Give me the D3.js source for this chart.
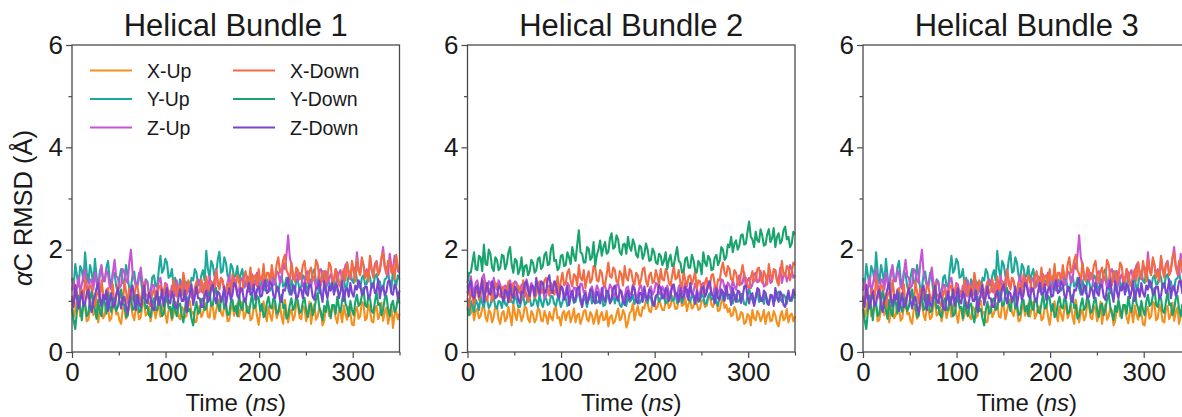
<!DOCTYPE html>
<html>
<head>
<meta charset="utf-8">
<script src="https://cdn.jsdelivr.net/npm/d3@7"></script>
<style>
  body { margin: 0; background: #fff; }
  svg text { font-family: "Liberation Sans", Arial, sans-serif; fill: #1a1a1a; }
</style>
</head>
<body>
<svg id="chart" width="1182" height="417"></svg>
<script>
// traces are sampled evenly over 0-350 ns
var tEnd = 350;

var seriesNames = ["X-Up", "Y-Up", "Z-Up", "X-Down", "Y-Down", "Z-Down"];
var seriesColors = ["#f5901f", "#1ca99a", "#c655d3", "#f26b43", "#18a46c", "#7b44cf"];
var panelTitles = ["Helical Bundle 1", "Helical Bundle 2", "Helical Bundle 3"];
var xTicks = [0, 100, 200, 300], xMinor = [50, 150, 250, 350];
var yTicks = [0, 2, 4, 6], yMinor = [1, 3, 5];

// bundle 1 traces (bundle 3 shows the same traces)
var b1XUp = [
  0.95,0.68,0.82,1.06,1.02,0.70,0.74,0.93,0.88,0.60,0.63,0.85,0.97,0.72,0.79,0.99,0.58,0.80,0.91,0.66,
  0.72,0.96,0.86,0.61,0.66,0.90,1.01,0.74,0.77,0.62,0.55,0.84,0.89,0.65,0.70,1.00,0.94,0.73,0.62,0.87,
  0.83,0.64,0.68,0.92,0.99,0.71,0.75,0.88,0.60,0.79,0.92,0.66,0.81,0.97,0.69,0.85,1.05,0.74,0.57,0.82,
  0.87,0.62,0.73,0.98,0.95,0.70,0.64,0.88,0.84,0.67,0.71,0.93,1.00,0.75,0.78,0.58,0.59,0.86,0.90,0.68,
  0.76,0.91,0.96,0.69,0.67,0.94,0.88,0.64,0.80,0.98,1.03,0.77,0.70,0.89,0.85,0.60,0.62,0.84,0.93,0.71,
  0.81,0.95,0.69,0.86,0.98,0.65,0.74,0.90,0.87,0.62,0.66,0.88,0.92,0.70,0.53,0.79,0.84,0.99,0.72,0.60,
  0.89,0.72,0.61,0.84,0.95,0.66,0.77,0.92,0.68,0.55,1.02,0.80,0.58,0.76,0.83,0.62,0.70,0.96,0.91,0.67,
  0.64,0.90,0.86,0.60,0.74,0.98,0.55,0.78,0.93,0.63,0.69,0.87,0.81,0.52,0.60,0.84,0.97,0.70,0.73,0.92,
  0.85,0.68,0.56,0.82,0.79,0.58,0.91,0.74,0.63,0.89,0.76,0.54,0.52,0.80,0.88,0.65,0.70,0.98,0.95,0.62,
  0.66,0.93,0.82,0.60,0.58,0.85,0.90,0.64,0.73,0.96,0.61,0.78,0.87,0.55,0.69,0.92,0.47,0.72,0.80,0.64,
  0.75];
var b1YUp = [
  1.45,1.25,1.72,1.50,1.28,1.68,1.60,1.38,1.95,1.55,1.35,1.70,1.55,1.30,1.82,1.48,1.22,1.58,1.66,1.38,
  1.40,1.65,1.78,1.42,1.30,1.58,1.52,1.28,1.18,1.45,1.62,1.35,1.36,1.70,1.48,1.22,1.25,1.52,1.57,1.30,
  1.33,1.55,1.44,1.18,1.20,1.42,1.38,1.12,1.15,1.46,1.50,1.30,1.27,1.60,1.88,1.55,1.62,1.82,1.75,1.45,
  1.48,1.62,1.30,1.45,1.22,1.10,1.42,1.28,1.12,1.38,1.35,1.18,1.25,1.45,1.40,1.62,1.55,1.30,1.32,1.50,
  1.60,1.40,1.98,1.62,1.45,1.78,1.70,1.48,1.52,1.80,1.96,1.55,1.58,1.85,1.75,1.50,1.42,1.72,1.65,1.45,
  1.50,1.68,1.36,1.52,1.62,1.38,1.28,1.46,1.45,1.25,1.22,1.40,1.38,1.55,1.30,1.18,1.48,1.35,1.20,1.42,
  1.35,1.20,1.26,1.48,1.42,1.25,1.18,1.36,1.50,1.28,1.32,1.45,1.24,1.12,1.40,1.30,1.15,1.42,1.38,1.22,
  1.28,1.50,1.45,1.30,1.20,1.42,1.36,1.55,1.62,1.38,1.25,1.15,1.40,1.58,1.32,1.20,1.48,1.35,1.22,1.45,
  1.38,1.20,1.55,1.36,1.27,1.48,1.44,1.22,1.30,1.52,1.58,1.40,1.35,1.62,1.42,1.28,1.25,1.45,1.50,1.32,
  1.33,1.55,1.46,1.25,1.28,1.48,1.52,1.36,1.38,1.20,1.24,1.42,1.44,1.58,1.35,1.22,1.60,1.40,1.30,1.50,
  1.42];
var b1ZUp = [
  1.20,1.38,1.05,1.25,1.48,1.18,1.32,1.50,1.62,1.30,1.15,1.42,1.40,1.22,1.55,1.35,1.25,1.52,1.70,1.40,
  1.38,1.60,1.52,1.28,1.22,1.55,1.80,1.48,1.45,1.25,1.30,1.62,1.58,1.40,1.35,1.75,2.00,1.55,1.42,1.30,
  1.28,1.48,1.65,1.35,1.18,1.40,1.36,1.15,1.10,1.32,1.30,1.08,1.22,1.38,1.45,1.20,1.15,1.35,1.32,1.12,
  1.08,1.30,1.26,1.10,1.40,1.22,1.18,1.38,1.35,1.15,1.12,1.30,1.28,1.06,1.05,1.25,1.22,1.42,1.38,1.18,
  1.16,1.35,1.30,1.12,1.48,1.28,1.20,1.42,1.62,1.30,1.25,1.45,1.38,1.20,1.14,1.36,1.50,1.26,1.28,1.45,
  1.35,1.15,1.22,1.40,1.45,1.25,1.30,1.48,1.18,1.35,1.52,1.30,1.32,1.55,1.40,1.22,1.25,1.42,1.46,1.28,
  1.30,1.52,1.48,1.30,1.36,1.58,1.55,1.35,1.40,1.75,1.62,1.90,2.28,1.85,1.70,1.42,1.45,1.60,1.38,1.55,
  1.50,1.28,1.32,1.55,1.58,1.36,1.28,1.48,1.45,1.25,1.35,1.60,1.62,1.38,1.40,1.58,1.30,1.45,1.52,1.35,
  1.44,1.62,1.36,1.55,1.60,1.40,1.48,1.70,1.75,1.50,1.42,1.65,1.66,1.45,1.95,1.62,1.55,1.80,1.70,1.48,
  1.62,1.45,1.85,1.60,1.50,1.72,1.78,1.52,1.58,1.82,2.05,1.68,1.65,1.48,1.92,1.70,1.60,1.88,1.80,1.58,
  1.55];
var b1XDown = [
  1.10,0.95,1.32,1.15,0.92,1.18,1.22,1.00,1.45,1.20,1.05,1.30,1.28,1.05,0.88,1.12,1.18,0.98,1.40,1.15,
  1.02,1.22,1.25,1.00,1.12,1.32,0.85,1.08,1.30,1.05,1.15,0.92,1.38,1.18,0.95,1.25,1.20,1.02,1.08,1.30,
  1.26,1.08,1.00,1.20,1.35,1.10,1.12,0.95,0.90,1.15,1.22,1.02,1.05,1.28,1.30,1.08,1.14,1.32,0.98,1.18,
  1.20,1.05,1.42,1.22,1.08,1.30,1.28,1.10,1.55,1.35,1.15,1.40,1.32,1.12,1.02,1.25,1.38,1.15,1.18,1.42,
  1.25,1.05,1.48,1.28,1.12,1.38,1.35,1.15,1.60,1.40,1.22,1.45,1.40,1.18,1.15,1.35,1.30,1.10,1.52,1.32,
  1.28,1.50,1.42,1.20,1.18,1.45,1.58,1.32,1.35,1.65,1.25,1.48,1.50,1.28,1.62,1.40,1.40,1.72,1.30,1.55,
  1.55,1.35,1.70,1.48,1.45,1.72,1.85,1.55,1.62,1.80,1.90,1.60,1.52,1.38,1.75,1.52,1.38,1.65,1.60,1.42,
  1.48,1.70,1.78,1.50,1.35,1.58,1.65,1.40,1.42,1.80,1.72,1.45,1.30,1.55,1.58,1.35,1.45,1.75,1.68,1.40,
  1.36,1.62,1.55,1.32,1.28,1.52,1.62,1.40,1.75,1.55,1.45,1.78,1.60,1.38,1.82,1.58,1.50,1.85,1.70,1.45,
  1.58,1.38,1.88,1.62,1.45,1.70,1.75,1.50,1.62,1.85,1.95,1.65,1.52,1.78,1.80,1.55,1.68,1.42,1.90,1.65,
  1.60];
var b1YDown = [
  0.85,0.62,0.45,0.80,1.10,0.88,0.62,0.98,0.95,0.70,0.75,1.05,1.18,0.90,0.82,0.65,1.02,0.78,0.70,1.00,
  0.98,0.75,1.15,0.90,0.78,1.02,1.05,0.80,0.88,1.10,1.22,0.95,0.92,0.68,0.72,0.98,1.08,0.82,0.85,1.12,
  1.00,0.78,0.80,1.05,1.12,0.85,0.90,0.72,0.68,0.95,1.05,0.82,0.82,1.08,0.95,0.70,0.75,0.98,1.10,0.86,
  0.88,0.66,1.02,0.82,0.70,0.92,0.95,0.72,0.58,0.85,1.08,0.80,0.84,0.65,0.52,0.82,0.98,0.75,0.78,1.02,
  1.05,0.82,0.86,1.08,1.18,0.90,0.92,1.15,1.25,0.95,0.80,1.02,1.10,0.85,0.95,0.72,0.74,0.98,1.02,0.80,
  0.90,0.70,1.12,0.88,0.82,1.05,1.00,0.78,0.76,0.95,1.15,0.85,0.88,1.10,1.05,0.80,0.94,0.68,0.72,0.96,
  1.08,0.88,0.85,1.05,1.00,0.75,0.78,0.98,1.12,0.86,0.92,0.65,0.70,0.92,1.05,0.82,0.88,1.10,0.98,0.76,
  0.80,0.98,1.06,0.82,0.68,0.90,0.95,0.72,0.84,1.02,1.15,0.88,0.75,0.62,0.90,0.78,1.02,0.85,0.66,0.92,
  0.92,0.75,1.08,0.88,0.78,1.02,1.20,0.95,0.86,0.70,1.00,0.82,0.72,0.98,1.12,0.90,0.94,1.10,1.25,0.92,
  0.88,1.08,1.05,0.80,0.76,0.98,1.18,0.92,0.95,0.72,0.82,1.05,1.10,0.85,0.70,0.92,1.00,0.78,0.86,1.05,
  0.95];
var b1ZDown = [
  1.05,0.88,1.30,1.08,0.85,1.02,1.18,0.90,0.95,1.15,1.22,0.92,0.78,1.00,1.10,1.25,1.35,1.05,0.90,1.12,
  1.02,1.20,0.80,0.98,1.15,0.88,0.92,1.12,1.25,1.00,0.85,1.05,1.08,0.90,0.75,0.98,1.20,1.30,0.98,0.82,
  1.12,0.95,0.88,1.08,1.30,1.02,0.95,1.15,1.05,0.85,0.82,1.02,1.18,0.92,1.00,1.22,0.90,1.10,1.25,1.00,
  0.95,1.18,1.10,0.90,0.85,1.05,1.22,1.00,1.00,1.20,0.78,0.98,1.15,1.32,0.92,1.08,1.28,1.05,1.05,0.88,
  0.88,1.10,1.20,0.98,1.02,1.25,1.32,1.08,0.95,1.18,1.15,0.98,1.08,1.28,0.90,1.12,1.25,1.02,1.12,1.35,
  1.30,1.10,1.05,1.25,1.22,1.02,0.98,1.20,1.35,1.12,1.15,1.32,1.02,1.22,1.28,1.08,1.10,1.30,1.40,1.15,
  1.18,1.38,1.32,1.10,1.05,1.28,1.25,1.02,0.98,1.22,1.20,1.35,1.45,1.18,1.12,1.30,1.28,1.05,1.08,1.25,
  1.22,1.05,1.35,1.15,1.10,1.32,1.30,1.08,1.02,1.25,1.25,1.40,1.15,0.98,1.38,1.18,1.05,1.28,1.20,1.35,
  1.12,1.32,1.30,1.05,1.18,1.38,1.00,1.20,1.25,1.08,1.35,1.15,1.08,1.30,1.22,1.40,1.32,1.12,1.15,1.28,
  1.28,1.05,1.10,1.32,1.35,1.15,1.20,1.42,1.05,1.25,1.30,1.10,1.18,1.38,1.40,1.15,1.12,1.32,1.25,1.05,
  1.20];

// bundle 2 traces
var b2XUp = [
  0.90,0.72,0.75,0.95,0.62,0.80,0.85,0.66,0.70,0.86,0.92,0.68,0.60,0.82,0.78,0.58,0.68,0.90,0.88,0.64,
  0.55,0.76,0.80,0.60,0.66,0.88,0.72,0.52,0.95,0.74,0.62,0.84,0.78,0.60,0.70,0.90,0.85,0.65,0.58,0.80,
  0.74,0.58,0.65,0.86,0.82,0.62,0.60,0.80,0.70,0.55,0.78,0.68,0.62,0.84,0.88,0.66,0.68,0.52,0.75,0.80,
  0.62,0.76,0.80,0.58,0.70,0.85,0.58,0.72,0.75,0.55,0.66,0.80,0.82,0.64,0.60,0.78,0.72,0.55,0.68,0.82,
  0.55,0.70,0.78,0.62,0.64,0.80,0.50,0.68,0.72,0.56,0.60,0.74,0.85,0.62,0.66,0.82,0.74,0.48,0.58,0.76,
  0.80,0.95,0.62,0.78,0.90,0.72,0.70,0.88,0.85,1.02,0.95,0.80,0.78,0.96,1.00,0.84,0.88,1.05,0.92,0.82,
  0.82,0.98,1.05,0.86,0.90,1.10,0.98,0.84,0.85,1.02,1.08,0.90,0.92,1.06,0.80,0.95,1.00,0.85,0.88,1.04,
  0.95,0.82,0.85,1.00,1.02,0.88,0.90,1.06,1.10,0.92,0.88,1.02,0.98,0.80,0.82,0.98,1.05,0.86,0.92,0.78,
  0.85,0.70,0.72,0.88,0.80,0.62,0.65,0.78,0.75,0.55,0.58,0.74,0.70,0.52,0.82,0.66,0.62,0.80,0.74,0.60,
  0.68,0.82,0.55,0.72,0.78,0.60,0.62,0.80,0.72,0.56,0.50,0.70,0.80,0.62,0.66,0.84,0.58,0.72,0.75,0.60,
  0.70];
var b2YUp = [
  0.85,0.72,1.00,0.90,0.78,1.02,0.95,0.82,1.10,0.95,0.88,1.05,1.02,0.86,0.92,1.08,1.05,0.90,0.85,1.00,
  0.98,0.86,1.08,0.94,0.90,1.05,1.15,0.98,0.95,1.10,1.02,0.88,0.88,1.02,1.10,0.92,0.96,1.12,1.05,0.90,
  0.92,1.06,1.00,0.88,1.12,0.98,0.88,1.04,1.05,0.92,0.95,1.10,1.08,0.94,0.90,1.05,1.02,0.88,0.98,1.12,
  1.05,0.90,0.92,1.08,1.10,0.96,0.98,1.12,1.15,0.98,0.90,1.06,1.02,0.88,1.08,1.18,0.95,1.05,1.12,0.96,
  0.98,1.10,1.06,0.90,0.92,1.05,1.12,0.96,1.00,1.14,0.95,1.08,1.08,0.92,0.88,1.02,1.04,0.90,1.10,0.98,
  1.02,1.12,0.94,1.05,1.10,0.95,1.00,1.16,1.15,1.00,0.96,1.10,1.06,0.92,0.92,1.08,1.12,0.98,1.04,1.14,
  1.08,0.95,0.98,1.12,1.15,1.00,1.02,1.16,0.95,1.06,1.10,0.96,1.05,1.20,1.18,1.02,0.98,1.12,1.06,0.94,
  1.12,0.98,1.00,1.14,1.08,0.94,0.95,1.10,1.15,1.02,1.05,1.18,0.98,0.90,1.10,1.22,1.02,1.08,1.20,1.04,
  1.05,1.15,0.95,1.06,1.12,0.98,1.00,1.14,1.08,0.94,0.92,1.10,1.25,1.08,1.02,0.92,1.10,1.20,0.98,1.06,
  1.06,0.94,1.15,1.02,0.95,1.08,1.10,0.96,1.02,1.14,1.18,1.04,0.98,1.12,1.08,0.94,1.12,1.02,1.00,1.10,
  1.05];
var b2ZUp = [
  1.30,1.12,1.48,1.28,1.15,1.35,1.40,1.22,1.25,1.45,1.52,1.30,1.18,1.38,1.35,1.15,1.45,1.28,1.22,1.40,
  1.32,1.18,1.12,1.30,1.28,1.10,1.40,1.25,1.20,1.38,1.35,1.18,1.15,1.32,1.25,1.08,1.42,1.30,1.18,1.35,
  1.28,1.10,1.15,1.32,1.35,1.18,1.22,1.05,1.10,1.28,1.30,1.15,1.20,1.36,1.38,1.20,1.12,1.30,1.25,1.08,
  1.18,1.35,1.30,1.12,1.08,1.26,1.25,1.10,1.15,1.34,1.32,1.16,1.20,1.02,1.05,1.22,1.28,1.12,1.15,1.30,
  1.22,1.05,1.10,1.28,1.30,1.14,1.18,1.32,1.25,1.08,1.12,1.30,1.35,1.18,1.20,1.04,1.08,1.25,1.28,1.12,
  1.15,1.32,1.25,1.08,1.10,1.26,1.30,1.14,1.20,1.02,1.05,1.22,1.28,1.12,1.18,1.35,1.32,1.15,1.12,1.28,
  1.20,1.05,1.30,1.16,1.15,1.32,1.25,1.08,1.10,1.28,1.32,1.14,1.22,1.36,1.08,1.20,1.28,1.12,1.18,1.34,
  1.25,1.10,1.15,1.32,1.35,1.18,1.20,1.38,1.30,1.14,1.12,1.30,1.28,1.15,1.22,1.42,1.40,1.25,1.18,1.36,
  1.30,1.18,1.42,1.28,1.22,1.40,1.50,1.32,1.35,1.55,1.28,1.40,1.45,1.25,1.32,1.52,1.55,1.36,1.38,1.58,
  1.45,1.28,1.30,1.48,1.52,1.35,1.38,1.58,1.60,1.40,1.42,1.65,1.35,1.50,1.55,1.38,1.48,1.70,1.62,1.45,
  1.50];
var b2XDown = [
  1.05,0.88,1.22,1.08,0.92,1.15,1.30,1.02,1.12,1.28,1.38,1.10,1.00,1.18,1.25,0.98,1.15,1.35,1.32,1.12,
  1.08,1.25,1.28,1.05,1.18,1.38,0.98,1.15,1.35,1.12,1.10,1.30,1.22,1.02,1.40,1.20,1.15,0.98,1.05,1.28,
  1.25,1.05,1.12,1.32,1.38,1.15,1.20,1.40,1.45,1.22,1.10,1.35,1.30,1.12,1.22,1.48,1.15,1.38,1.55,1.30,
  1.35,1.55,1.62,1.38,1.28,1.52,1.48,1.30,1.70,1.45,1.40,1.60,1.25,1.45,1.58,1.35,1.42,1.68,1.65,1.40,
  1.38,1.60,1.55,1.32,1.30,1.52,1.75,1.48,1.45,1.65,1.60,1.38,1.35,1.58,1.52,1.30,1.68,1.45,1.40,1.62,
  1.58,1.38,1.32,1.55,1.50,1.30,1.42,1.62,1.65,1.40,1.28,1.50,1.55,1.35,1.38,1.60,1.48,1.30,1.62,1.42,
  1.40,1.62,1.55,1.35,1.30,1.50,1.68,1.42,1.45,1.60,1.35,1.25,1.58,1.40,1.28,1.48,1.50,1.32,1.42,1.58,
  1.22,1.40,1.38,1.18,1.15,1.35,1.45,1.25,1.30,1.50,1.52,1.32,1.20,1.42,1.40,1.62,1.75,1.55,1.48,1.68,
  1.62,1.42,1.38,1.60,1.55,1.35,1.30,1.52,1.70,1.48,1.45,1.28,1.25,1.45,1.58,1.38,1.40,1.62,1.65,1.42,
  1.35,1.58,1.50,1.32,1.72,1.52,1.42,1.62,1.60,1.38,1.30,1.55,1.78,1.50,1.48,1.68,1.65,1.40,1.55,1.75,
  1.70];
var b2YDown = [
  1.35,1.55,1.55,1.75,1.95,1.62,1.60,1.88,1.85,1.58,2.10,1.72,1.70,2.00,1.92,1.65,1.58,1.85,1.80,1.60,
  1.65,1.90,1.88,1.62,1.72,1.95,2.05,1.70,1.55,1.82,1.78,1.52,1.62,1.85,1.48,1.68,1.70,1.50,1.58,1.80,
  1.75,1.55,1.60,1.82,1.85,1.62,1.68,1.90,1.95,1.70,1.72,2.02,2.10,1.78,1.80,1.60,1.65,1.88,1.90,1.68,
  1.70,1.95,1.85,1.72,2.05,1.88,1.78,2.10,2.38,1.95,1.92,1.75,1.75,2.05,2.02,1.80,1.85,2.15,1.68,1.90,
  2.00,2.18,1.88,2.05,2.15,1.92,1.95,2.22,2.32,2.02,2.05,2.28,2.20,1.95,1.90,2.10,2.12,1.92,2.25,2.05,
  1.98,2.20,2.10,1.90,1.85,2.08,2.05,1.82,1.92,2.12,2.00,1.78,1.80,2.02,1.95,1.75,1.72,1.92,1.88,1.70,
  1.78,1.95,1.62,1.80,1.90,1.68,1.70,1.88,2.05,1.78,1.75,1.55,1.58,1.82,1.85,1.65,1.65,1.90,1.80,1.60,
  1.55,1.78,1.72,1.52,1.95,1.75,1.68,1.88,1.82,1.60,1.62,1.85,1.90,1.70,1.78,2.05,2.00,1.80,1.85,2.10,
  2.05,2.25,1.95,2.12,2.18,2.00,2.08,2.28,2.30,2.10,2.12,2.35,2.55,2.25,2.20,2.05,2.35,2.18,2.15,2.40,
  2.28,2.08,2.10,2.30,2.40,2.15,2.22,2.42,2.05,2.25,2.32,2.12,2.18,2.38,2.45,2.20,2.25,2.05,2.12,2.35,
  2.30];
var b2ZDown = [
  1.15,1.32,1.40,1.10,1.05,1.25,1.30,1.08,1.22,1.42,0.98,1.18,1.35,1.15,1.12,1.38,1.28,1.05,1.08,1.30,
  1.25,1.08,1.00,1.22,1.18,0.98,1.32,1.12,1.05,1.28,1.22,1.02,0.95,1.18,1.15,1.35,1.38,1.20,1.10,1.30,
  1.28,1.10,1.45,1.25,1.12,1.38,1.35,1.15,1.20,1.42,1.50,1.22,1.15,1.38,1.32,1.10,1.05,1.28,1.25,1.02,
  1.10,1.28,0.92,1.12,1.20,0.98,1.05,1.25,1.28,1.05,0.88,1.10,1.15,0.95,1.02,1.22,1.22,1.00,0.95,1.18,
  1.12,0.95,1.25,1.05,0.98,1.20,1.18,0.95,1.05,1.25,1.30,1.08,1.00,1.22,1.15,0.98,0.92,1.12,1.20,1.02,
  1.08,1.28,1.22,1.00,0.95,1.15,1.15,0.98,1.28,1.08,1.02,1.22,1.18,0.96,0.90,1.10,1.12,1.30,1.25,1.05,
  1.05,1.25,1.20,1.00,1.10,1.28,1.32,1.10,1.15,0.98,1.25,1.05,1.08,1.28,1.22,1.02,1.35,1.15,1.12,0.95,
  1.20,1.00,1.05,1.25,1.28,1.08,1.15,1.32,1.38,1.12,1.10,0.95,1.25,1.05,1.02,1.22,1.18,1.00,1.30,1.10,
  1.12,0.92,1.25,1.08,0.98,1.20,1.18,0.96,1.08,1.28,1.30,1.10,0.95,1.12,1.15,0.90,1.05,1.25,1.22,1.00,
  1.00,1.20,1.15,0.95,0.92,1.12,1.10,0.90,1.25,1.08,0.98,1.18,1.12,0.92,0.88,1.05,1.20,1.00,1.05,1.22,
  1.10];

var bundle1 = [b1XUp, b1YUp, b1ZUp, b1XDown, b1YDown, b1ZDown];
var bundle2 = [b2XUp, b2YUp, b2ZUp, b2XDown, b2YDown, b2ZDown];
var panelData = [bundle1, bundle2, bundle1];

// ---------------------------//
//       LAYOUT               //
// ---------------------------//
var svg = d3.select("#chart");
var panelLeft = [72, 467.5, 863];
var plotTop = 45, plotBottom = 352, panelW = 327.5;
var spine = "#4a4a4a";

var y = d3.scaleLinear().domain([0, 6]).range([plotBottom, plotTop]);

panelLeft.forEach(function(left, p) {
    var x = d3.scaleLinear().domain([0, tEnd]).range([left, left + panelW]);
    var g = svg.append("g");

    // traces
    g.append("g").selectAll("path")
        .data(panelData[p])
        .enter()
        .append("path")
        .attr("d", function(s) {
            var step = tEnd / (s.length - 1);
            return d3.line()
                .x(function(d, i) { return x(i * step); })
                .y(function(d) { return y(d); })(s);
        })
        .attr("fill", "none")
        .attr("stroke", function(d, i) { return seriesColors[i]; })
        .attr("stroke-width", 2.1)
        .attr("stroke-linejoin", "round");

    // box
    g.append("rect")
        .attr("x", left).attr("y", plotTop)
        .attr("width", panelW).attr("height", plotBottom - plotTop)
        .attr("fill", "none").attr("stroke", spine).attr("stroke-width", 1.3);

    // x axis, major + minor
    var xa = g.append("g").attr("transform", "translate(0," + plotBottom + ")")
        .call(d3.axisBottom(x).tickValues(xTicks).tickSize(6).tickPadding(5).tickFormat(d3.format("d")));
    var xm = g.append("g").attr("transform", "translate(0," + plotBottom + ")")
        .call(d3.axisBottom(x).tickValues(xMinor).tickSize(3.5).tickFormat(""));

    // y axis, major + minor
    var ya = g.append("g").attr("transform", "translate(" + left + ",0)")
        .call(d3.axisLeft(y).tickValues(yTicks).tickSize(6).tickPadding(3).tickFormat(d3.format("d")));
    var ym = g.append("g").attr("transform", "translate(" + left + ",0)")
        .call(d3.axisLeft(y).tickValues(yMinor).tickSize(3.5).tickFormat(""));

    [xa, xm, ya, ym].forEach(function(a) {
        a.select(".domain").remove();
        a.selectAll(".tick line").attr("stroke", spine).attr("stroke-width", 1.2);
        a.selectAll(".tick text").style("font-size", "26px").attr("fill", "#1a1a1a");
    });

    // title
    g.append("text")
        .attr("x", left + panelW / 2)
        .attr("y", 36)
        .attr("text-anchor", "middle")
        .style("font-size", "31px")
        .text(panelTitles[p]);

    // x label
    var xl = g.append("text")
        .attr("x", left + panelW / 2)
        .attr("y", 411)
        .attr("text-anchor", "middle")
        .style("font-size", "24px");
    xl.append("tspan").text("Time (");
    xl.append("tspan").style("font-style", "italic").text("ns");
    xl.append("tspan").text(")");
});

// y label
var yl = svg.append("text")
    .attr("transform", "translate(32,208) rotate(-90)")
    .attr("text-anchor", "middle")
    .style("font-size", "25.5px");
yl.append("tspan").style("font-style", "italic").text("α");
yl.append("tspan").text("C RMSD (Å)");

// ---------------------------//
//       LEGEND               //
// ---------------------------//
var legCols = [90, 233], legRows = [70.5, 99, 127.5];
var leg = svg.append("g");
seriesNames.forEach(function(name, i) {
    var cx = legCols[Math.floor(i / 3)], cy = legRows[i % 3];
    leg.append("line")
        .attr("x1", cx).attr("x2", cx + 42)
        .attr("y1", cy).attr("y2", cy)
        .attr("stroke", seriesColors[i])
        .attr("stroke-width", 2);
    leg.append("text")
        .attr("x", cx + 57)
        .attr("y", cy)
        .attr("dy", "0.36em")
        .style("font-size", "19.5px")
        .text(name);
});
</script>
</body>
</html>
